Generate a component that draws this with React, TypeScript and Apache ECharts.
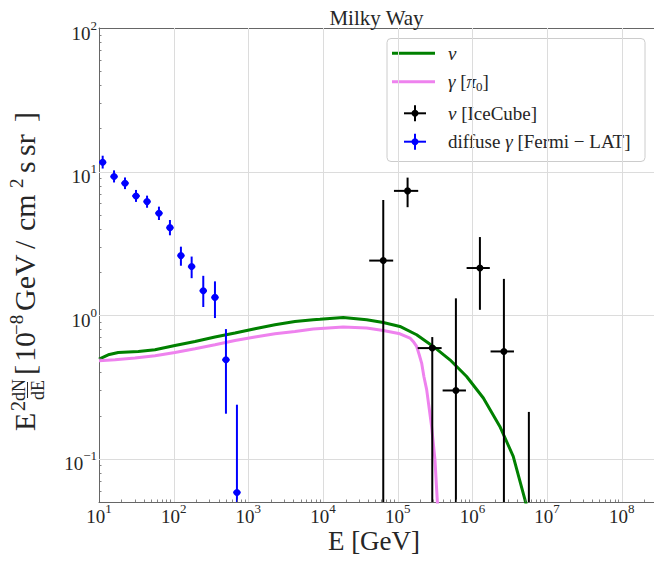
import React, { useEffect, useRef } from 'react';
import * as echarts from 'echarts';

// ---------- axis ranges (data units) ----------
const E_MIN = 10;
const E_MAX = 2.7e8;
const FLUX_MIN = 0.05;
const FLUX_MAX = 100;

// ---------- tick labels (exponents of 10) ----------
const xMajorExponents = [1, 2, 3, 4, 5, 6, 7, 8];
const yMajorExponents = [-1, 0, 1, 2];
const xGridExponents = [2, 3, 4, 5, 6, 7, 8];
const yGridExponents = [-1, 0, 1];
const minorMultipliers = [2, 3, 4, 5, 6, 7, 8, 9];
const xMinorDecades = [1, 2, 3, 4, 5, 6, 7, 8];
const yMinorDecades = [-2, -1, 0, 1];

// ---------- model curves ----------
const nuModelE = [10, 13.3, 18.1, 33.6, 56.2, 104, 193, 357, 662, 1225, 2270, 4205, 7390, 9080, 18600, 38400, 64000, 107000, 179000, 299000, 500000, 836000, 1400000, 2330000, 3520000, 5050000, 5890000];
const nuModelFlux = [0.495, 0.53, 0.55, 0.559, 0.574, 0.615, 0.656, 0.704, 0.751, 0.804, 0.857, 0.904, 0.929, 0.936, 0.964, 0.929, 0.89, 0.835, 0.731, 0.606, 0.489, 0.374, 0.265, 0.168, 0.104, 0.0519, 0.0377];

const gammaModelE = [10, 16.4, 30.3, 56.2, 104, 193, 357, 662, 1225, 2270, 4205, 7390, 18600, 38400, 64000, 107000, 146000, 161000, 179000, 194000, 209000, 224000, 244000, 284000, 315000, 338000, 351000];
const gammaModelFlux = [0.482, 0.489, 0.503, 0.522, 0.55, 0.584, 0.622, 0.667, 0.704, 0.742, 0.77, 0.8, 0.826, 0.813, 0.782, 0.742, 0.693, 0.656, 0.606, 0.53, 0.464, 0.374, 0.303, 0.168, 0.0987, 0.0519, 0.0377];

// ---------- IceCube neutrino points ----------
const iceCubeE = [64000, 135500, 290000, 601000, 1260000, 2640000, 5700000];
const iceCubeFlux = [2.4, 7.34, 0.59, 0.299, 2.13, 0.559, 0.03];
const iceCubeFluxLow = [0.001, 5.65, 0.001, 0.001, 1.09, 0.001, 0.001];
const iceCubeFluxHigh = [6.35, 9.08, 0.704, 1.31, 3.5, 1.79, 0.212];
const iceCubeELow = [41500, 89000, 185000, 399000, 836000, 1750000, 3800000];
const iceCubeEHigh = [86900, 188000, 387000, 819000, 1710000, 3600000, 8500000];

// ---------- Fermi-LAT diffuse gamma points ----------
const fermiE = [11.2, 15.9, 22.3, 31.3, 44.0, 63.5, 89.1, 125, 174, 249, 357, 501, 703];
const fermiFlux = [11.6, 9.23, 8.3, 6.77, 6.18, 5.13, 4.07, 2.6, 2.18, 1.48, 1.33, 0.489, 0.0583];
const fermiFluxLow = [10.5, 8.4, 7.55, 6.15, 5.6, 4.6, 3.6, 2.21, 1.81, 1.14, 0.955, 0.206, 0.01];
const fermiFluxHigh = [12.9, 10.2, 9.1, 7.45, 6.8, 5.7, 4.6, 3.0, 2.56, 1.88, 1.72, 0.8, 0.238];
const fermiELow = [10.0, 14.2, 19.9, 27.9, 39.3, 56.7, 79.6, 112, 155, 222, 319, 447, 628];
const fermiEHigh = [12.5, 17.8, 25.0, 35.1, 49.3, 71.1, 99.8, 140, 195, 279, 400, 561, 787];

// ---------- texts ----------
const titleText = 'Milky Way';
const xAxisTitle = 'E [GeV]';

// ---------- styling ----------
const FONT = "'Liberation Serif', 'DejaVu Serif', serif";
const TXT = '#262626';
const GREEN = '#008000';
const VIOLET = '#ee82ee';
const BLUE = '#0000ff';
const BLACK = '#000000';
const GRID_COLOR = '#dcdcdc';
const SPINE_COLOR = '#666666';

const lg = (v: number) => Math.log10(v);
const X_MIN = lg(E_MIN);
const X_MAX = lg(E_MAX);
const Y_MIN = lg(FLUX_MIN);
const Y_MAX = lg(FLUX_MAX);

const powLabel = (v: number) => {
  const r = Math.round(v);
  if (Math.abs(v - r) > 1e-6) return '';
  const exp = r < 0 ? '\u2212' + String(-r) : String(r);
  return `{b|10}{s|${exp}}`;
};

const tickRich = {
  b: { fontFamily: FONT, fontSize: 19, color: TXT, lineHeight: 24, verticalAlign: 'bottom' },
  s: { fontFamily: FONT, fontSize: 13, color: TXT, lineHeight: 9, verticalAlign: 'top' },
};

export default function App() {
  const ref = useRef<HTMLDivElement>(null);

  useEffect(() => {
    document.body.style.margin = '0';
    if (!ref.current) return;
    const chart = echarts.init(ref.current, null, { renderer: 'svg' });

    const xMinor: number[] = [];
    xMinorDecades.forEach((d) =>
      minorMultipliers.forEach((m) => {
        const v = lg(m * Math.pow(10, d));
        if (v < X_MAX) xMinor.push(v);
      })
    );
    const yMinor: number[] = [];
    yMinorDecades.forEach((d) =>
      minorMultipliers.forEach((m) => {
        const v = lg(m * Math.pow(10, d));
        if (v > Y_MIN + 1e-9 && v < Y_MAX) yMinor.push(v);
      })
    );

    const gridData = [
      ...xGridExponents.map((v) => [0, v]),
      ...yGridExponents.map((v) => [1, v]),
    ];
    const minorData = [...xMinor.map((v) => [0, v]), ...yMinor.map((v) => [1, v])];

    const nuData = nuModelE.map((e, i) => [lg(e), lg(nuModelFlux[i])]);
    const gammaData = gammaModelE.map((e, i) => [lg(e), lg(gammaModelFlux[i])]);
    const iceData = iceCubeE.map((e, i) => [
      lg(e), lg(iceCubeFlux[i]), lg(iceCubeFluxLow[i]), lg(iceCubeFluxHigh[i]), lg(iceCubeELow[i]), lg(iceCubeEHigh[i]),
    ]);
    const fermiData = fermiE.map((e, i) => [
      lg(e), lg(fermiFlux[i]), lg(fermiFluxLow[i]), lg(fermiFluxHigh[i]), lg(fermiELow[i]), lg(fermiEHigh[i]),
    ]);

    const errorBarRenderer = (color: string, lw: number, r: number) => (params: any, api: any) => {
      const cs = params.coordSys;
      const x = api.value(0);
      const y = api.value(1);
      const c = api.coord([x, y]);
      const top = api.coord([x, api.value(3)])[1];
      const bot = api.coord([x, api.value(2)])[1];
      const left = api.coord([api.value(4), y])[0];
      const right = api.coord([api.value(5), y])[0];
      const y0 = cs.y;
      const y1 = cs.y + cs.height;
      const clampY = (v: number) => Math.max(y0, Math.min(y1, v));
      const children: any[] = [];
      if (!(top > y1 || bot < y0)) {
        children.push({
          type: 'line',
          shape: { x1: c[0], y1: clampY(top), x2: c[0], y2: clampY(bot) },
          style: { stroke: color, lineWidth: lw },
        });
      }
      if (c[1] >= y0 && c[1] <= y1) {
        children.push({
          type: 'line',
          shape: { x1: Math.max(cs.x, left), y1: c[1], x2: right, y2: c[1] },
          style: { stroke: color, lineWidth: lw },
        });
        children.push({ type: 'circle', shape: { cx: c[0], cy: c[1], r }, style: { fill: color } });
      }
      return { type: 'group', children };
    };

    const cen = (baseline: number, size: number) => baseline - 0.3375 * size;
    const txt = (text: string, x: number, baseline: number, size: number, align = 'left') => ({
      type: 'text',
      x,
      y: cen(baseline, size),
      style: {
        text,
        fontFamily: FONT,
        fontSize: size,
        fill: TXT,
        align,
        textAlign: align,
        verticalAlign: 'middle',
        textVerticalAlign: 'middle',
      },
    });

    // y-axis title pieces, laid out along the rotated baseline
    const yTitle = {
      type: 'group',
      x: 35,
      y: 431,
      rotation: Math.PI / 2,
      children: [
        txt('E', 0, 0, 30),
        txt('2', 20, -10, 20),
        txt('dN', 41, -10, 18, 'center'),
        txt('dE', 41, 9.5, 18, 'center'),
        { type: 'line', shape: { x1: 33, y1: -7.5, x2: 49, y2: -7.5 }, style: { stroke: TXT, lineWidth: 1 } },
        txt('[', 56, 0, 30),
        txt('10', 69, 0, 30),
        txt('\u22128', 96, -12, 19),
        txt('GeV', 120, 0, 30),
        txt('/', 182, 0, 30),
        txt('cm', 200, 0, 30),
        txt('2', 243, -12, 19),
        txt('s', 258, 0, 30),
        txt('sr', 275, 0, 30),
        txt(']', 309, 0, 30),
      ],
    };

    const legendRich = {
      r: { fontFamily: FONT, fontSize: 19, fill: TXT, lineHeight: 22 },
      i: { fontFamily: FONT, fontSize: 19, fontStyle: 'italic', fill: TXT, lineHeight: 22 },
      sub: { fontFamily: FONT, fontSize: 13, fill: TXT, lineHeight: 11, verticalAlign: 'bottom' },
    };
    const legendRows = [
      { y: 53.3, text: '{i|\u03bd}' },
      { y: 81.7, text: '{i|\u03b3}{r| [}{i|\u03c0}{sub|0}{r|]}' },
      { y: 113.3, text: '{i|\u03bd}{r| [IceCube]}' },
      { y: 141.7, text: '{r|diffuse }{i|\u03b3}{r| [Fermi \u2212 LAT]}' },
    ];
    const legendHandle = (i: number, y: number) => {
      if (i === 0 || i === 1) {
        return {
          type: 'line',
          shape: { x1: 392, y1: y, x2: 435, y2: y },
          style: { stroke: i === 0 ? GREEN : VIOLET, lineWidth: 3 },
        };
      }
      const col = i === 2 ? BLACK : BLUE;
      return {
        type: 'group',
        children: [
          { type: 'line', shape: { x1: 415, y1: y - 8, x2: 415, y2: y + 8 }, style: { stroke: col, lineWidth: 2 } },
          { type: 'line', shape: { x1: 404, y1: y, x2: 426, y2: y }, style: { stroke: col, lineWidth: 2 } },
          { type: 'circle', shape: { cx: 415, cy: y, r: 3.5 }, style: { fill: col } },
        ],
      };
    };
    const legend = {
      type: 'group',
      z: 100,
      children: [
        {
          type: 'rect',
          shape: { x: 387, y: 38.5, width: 258, height: 123, r: 4 },
          style: { fill: 'rgba(255,255,255,0.8)', stroke: '#cccccc', lineWidth: 1 },
        },
        ...legendRows.map((row, i) => legendHandle(i, row.y)),
        ...legendRows.map((row) => ({
          type: 'text',
          x: 448,
          y: row.y,
          style: {
            text: row.text,
            rich: legendRich,
            fontFamily: FONT,
            fontSize: 19,
            fill: TXT,
            align: 'left',
            textAlign: 'left',
            verticalAlign: 'middle',
            textVerticalAlign: 'middle',
          },
        })),
      ],
    };

    const option: any = {
      animation: false,
      backgroundColor: '#ffffff',
      grid: { left: 99, top: 28, right: 0, bottom: 59 },
      xAxis: [
        {
          type: 'value',
          min: X_MIN,
          max: X_MAX,
          interval: 1,
          position: 'bottom',
          axisLine: { show: true, onZero: false, lineStyle: { color: SPINE_COLOR, width: 1 } },
          axisTick: { show: false },
          splitLine: { show: false },
          axisLabel: {
            show: true,
            customValues: xMajorExponents,
            formatter: powLabel,
            rich: tickRich,
            margin: 0,
            hideOverlap: false,
          },
        },
        {
          type: 'value',
          min: X_MIN,
          max: X_MAX,
          position: 'top',
          axisLine: { show: true, onZero: false, lineStyle: { color: SPINE_COLOR, width: 1 } },
          axisTick: { show: false },
          splitLine: { show: false },
          axisLabel: { show: false },
        },
      ],
      yAxis: [
        {
          type: 'value',
          min: Y_MIN,
          max: Y_MAX,
          splitNumber: 3,
          axisLine: { show: true, onZero: false, lineStyle: { color: SPINE_COLOR, width: 1 } },
          axisTick: { show: false },
          splitLine: { show: false },
          axisLabel: {
            show: true,
            customValues: yMajorExponents,
            formatter: powLabel,
            rich: tickRich,
            margin: 2,
            padding: [5, 0, 0, 0],
            hideOverlap: false,
          },
        },
      ],
      graphic: [
        {
          type: 'text',
          x: 376.5,
          y: cen(25, 21),
          z: 100,
          style: {
            text: titleText,
            fontFamily: FONT,
            fontSize: 21,
            fill: TXT,
            align: 'center',
            textAlign: 'center',
            verticalAlign: 'middle',
            textVerticalAlign: 'middle',
          },
        },
        {
          type: 'text',
          x: 374,
          y: cen(550, 27),
          z: 100,
          style: {
            text: xAxisTitle,
            fontFamily: FONT,
            fontSize: 27,
            lineHeight: 20,
            fill: TXT,
            align: 'center',
            textAlign: 'center',
            verticalAlign: 'middle',
            textVerticalAlign: 'middle',
          },
        },
        { ...yTitle, z: 100 },
        legend,
      ],
      series: [
        {
          type: 'custom',
          name: 'grid',
          silent: true,
          z: 1,
          clip: false,
          data: gridData,
          renderItem: (params: any, api: any) => {
            const cs = params.coordSys;
            const kind = api.value(0);
            const v = api.value(1);
            if (kind === 0) {
              const px = Math.round(api.coord([v, 0])[0]) + 0.5;
              return { type: 'line', shape: { x1: px, y1: cs.y, x2: px, y2: cs.y + cs.height }, style: { stroke: GRID_COLOR, lineWidth: 1 } };
            }
            const py = Math.round(api.coord([2, v])[1]) + 0.5;
            return { type: 'line', shape: { x1: cs.x, y1: py, x2: cs.x + cs.width, y2: py }, style: { stroke: GRID_COLOR, lineWidth: 1 } };
          },
        },
        {
          type: 'custom',
          name: 'minor ticks',
          silent: true,
          z: 5,
          clip: false,
          data: minorData,
          renderItem: (params: any, api: any) => {
            const cs = params.coordSys;
            const kind = api.value(0);
            const v = api.value(1);
            if (kind === 0) {
              const px = Math.round(api.coord([v, 0])[0]) + 0.5;
              const b = cs.y + cs.height;
              return { type: 'line', shape: { x1: px, y1: b, x2: px, y2: b - 2.5 }, style: { stroke: SPINE_COLOR, lineWidth: 0.8 } };
            }
            const py = Math.round(api.coord([2, v])[1]) + 0.5;
            return { type: 'line', shape: { x1: cs.x, y1: py, x2: cs.x + 2.5, y2: py }, style: { stroke: SPINE_COLOR, lineWidth: 0.8 } };
          },
        },
        {
          type: 'line',
          name: '\u03bd',
          data: nuData,
          showSymbol: false,
          symbol: 'none',
          clip: true,
          z: 3,
          lineStyle: { color: GREEN, width: 3 },
          itemStyle: { color: GREEN },
        },
        {
          type: 'line',
          name: '\u03b3 [\u03c00]',
          data: gammaData,
          showSymbol: false,
          symbol: 'none',
          clip: true,
          z: 3,
          lineStyle: { color: VIOLET, width: 3 },
          itemStyle: { color: VIOLET },
        },
        {
          type: 'custom',
          name: '\u03bd [IceCube]',
          silent: true,
          z: 4,
          clip: true,
          data: iceData,
          renderItem: errorBarRenderer(BLACK, 2, 3.5),
        },
        {
          type: 'custom',
          name: 'diffuse \u03b3 [Fermi \u2212 LAT]',
          silent: true,
          z: 4,
          clip: true,
          data: fermiData,
          renderItem: errorBarRenderer(BLUE, 2, 3.5),
        },
      ],
    };

    chart.setOption(option);
    return () => chart.dispose();
  }, []);

  return (
    <div
      ref={ref}
      style={{ position: 'fixed', left: 0, top: 0, width: 654, height: 561, background: '#ffffff' }}
    />
  );
}
